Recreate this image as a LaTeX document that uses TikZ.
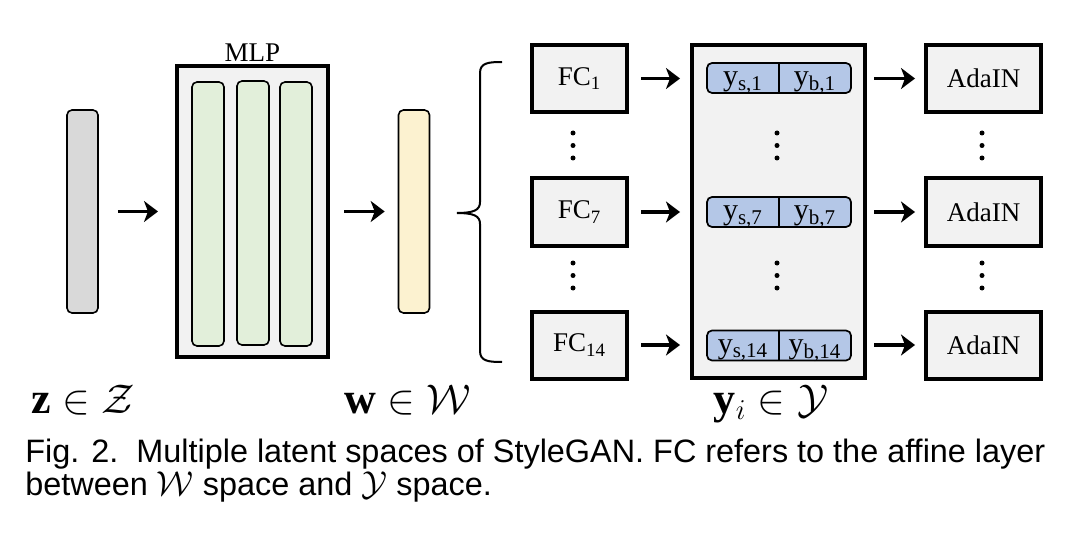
\documentclass[tikz,border=0pt]{standalone}
\usepackage{fontspec}
\setmainfont{Liberation Serif}
\newfontfamily\capfont{Liberation Sans}
\usepackage{xcolor}
\usetikzlibrary{arrows.meta}
\definecolor{boxgray}{HTML}{F2F2F2}
\definecolor{zgray}{HTML}{D9D9D9}
\definecolor{mlpgreen}{HTML}{E2EFDA}
\definecolor{wyellow}{HTML}{FCF2D0}
\definecolor{yblue}{HTML}{B4C7E7}

\begin{document}
\begin{tikzpicture}[x=0.5pt,y=-0.5pt]
\tikzstyle{blk} = [draw, line width=2pt, fill=boxgray, minimum width=47.5pt, minimum height=33.5pt, inner sep=0pt, font=\fontsize{13.5}{15}\selectfont]
\tikzstyle{vec} = [draw, line width=0.8pt, rounded corners=2.5pt, minimum width=15.5pt, minimum height=101.5pt]
\tikzstyle{layer} = [draw, line width=0.8pt, rounded corners=2.5pt, fill=mlpgreen, minimum width=16pt, minimum height=132pt]
\tikzstyle{pair} = [draw, line width=0.85pt, rounded corners=2.5pt, fill=yblue, minimum width=72pt, minimum height=15pt]
\tikzstyle{half} = [anchor=base, inner sep=0pt, font=\fontsize{15}{17}\selectfont]
\tikzstyle{arr} = [line width=1.7pt, -{Stealth[length=7pt,width=10.5pt,inset=2pt]}]
\tikzstyle{lbl} = [anchor=base, font=\fontsize{22}{24}\selectfont]
\useasboundingbox (0,0) rectangle (1080,534);
\node[vec, fill=zgray] (z) at (82.5,211.5) {};
\node[blk, minimum width=75.5pt, minimum height=145.5pt] (mlp) at (252.5,211.5) {};
\node[layer] (l1) at (208,214) {};
\node[layer] (l2) at (253,213) {};
\node[layer] (l3) at (296,214) {};
\node[font=\fontsize{13.5}{15}\selectfont, anchor=base] (mlplbl) at (252.5,62) {MLP};
\node[vec, fill=wyellow] (w) at (414,211.5) {};
\coordinate (bt) at (502,62);
\coordinate (bm) at (457,213);
\coordinate (bb) at (502,362);
\draw[line width=1pt] (bt) .. controls (488,62) and (480,63) .. (480,73) -- (480,202)
  .. controls (480,210) and (474,213) .. (bm) .. controls (474,213) and (480,216) .. (480,224)
  -- (480,351) .. controls (480,361) and (488,362) .. (bb);
\node[blk] (fc1) at (579.5,78.5) {FC\textsubscript{1}};
\node[blk] (fc7) at (579.5,212) {FC\textsubscript{7}};
\node[blk] (fc14) at (579.5,345) {FC\textsubscript{14}};
\node[blk, minimum width=86.5pt, minimum height=166.5pt] (ybox) at (778.5,211.5) {};
\node[pair] (p1) at (779,78) {};
\node[pair] (p7) at (779,212) {};
\node[pair] (p14) at (779,345.5) {};
\draw[line width=0.85pt] (p1.north) -- (p1.south);
\draw[line width=0.85pt] (p7.north) -- (p7.south);
\draw[line width=0.85pt] (p14.north) -- (p14.south);
\node[half] (ys1) at (743,86) {y\textsubscript{s,1}};
\node[half] (yb1) at (815,86) {y\textsubscript{b,1}};
\node[half] (ys7) at (743,220) {y\textsubscript{s,7}};
\node[half] (yb7) at (815,220) {y\textsubscript{b,7}};
\node[half] (ys14) at (743,353.5) {y\textsubscript{s,14}};
\node[half] (yb14) at (815,353.5) {y\textsubscript{b,14}};
\node[blk, minimum width=57.5pt] (ada1) at (983.5,78.5) {AdaIN};
\node[blk, minimum width=57.5pt] (ada7) at (983.5,212) {AdaIN};
\node[blk, minimum width=57.5pt] (ada14) at (983.5,345) {AdaIN};
\foreach \x in {573,777,982}
  \foreach \y in {133,145.5,158,263,275.5,288}
    \fill (\x,\y) circle (1.25pt);
\draw[arr] ([xshift=9.5pt]z.east) -- ([xshift=-8.5pt]mlp.west);
\draw[arr] ([xshift=7pt]mlp.east) -- ([xshift=-6.5pt]w.west);
\draw[arr] ([xshift=6pt]fc1.east) -- ([xshift=-5pt]fc1.east -| ybox.west);
\draw[arr] ([xshift=6pt]fc7.east) -- ([xshift=-5pt]fc7.east -| ybox.west);
\draw[arr] ([xshift=6pt]fc14.east) -- ([xshift=-5pt]fc14.east -| ybox.west);
\draw[arr] ([xshift=3.5pt]ada1.west -| ybox.east) -- ([xshift=-4.5pt]ada1.west);
\draw[arr] ([xshift=3.5pt]ada7.west -| ybox.east) -- ([xshift=-4.5pt]ada7.west);
\draw[arr] ([xshift=3.5pt]ada14.west -| ybox.east) -- ([xshift=-4.5pt]ada14.west);
\node[lbl] (zlbl) at (83,413) {$\mathbf{z}\in\mathcal{Z}$};
\node[lbl] (wlbl) at (408,413) {$\mathbf{w}\in\mathcal{W}$};
\node[lbl] (ylbl) at (771,413) {$\mathbf{y}_i\in\mathcal{Y}$};
\node[anchor=base west, align=left, inner sep=0pt, font=\capfont\fontsize{16.2}{15}\selectfont] (cap) at (25,495)
  {Fig. 2.\ \ Multiple latent spaces of StyleGAN. FC refers to the affine layer\\
   between $\mathcal{W}$ space and $\mathcal{Y}$ space.};
\end{tikzpicture}
\end{document}
